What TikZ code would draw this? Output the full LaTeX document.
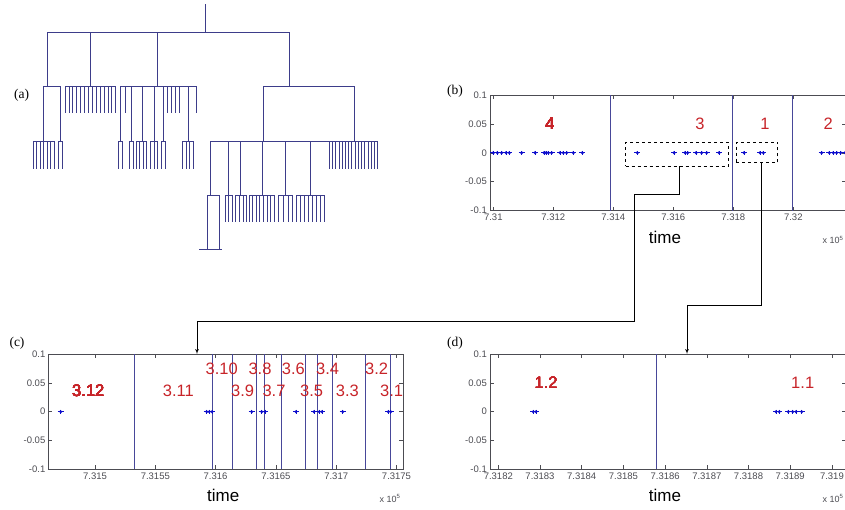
\documentclass[tikz,border=0pt]{standalone}
\usepackage{fontspec}
\setmainfont{Liberation Serif}
\newfontfamily\arialfont{Liberation Sans}
\usetikzlibrary{shapes,arrows,calc}
\definecolor{dendcol}{rgb}{0.24,0.24,0.54}
\definecolor{axcol}{rgb}{0.3,0.3,0.32}
\definecolor{sepcol}{rgb}{0.28,0.28,0.6}
\definecolor{labred}{rgb}{0.78,0.14,0.16}
\definecolor{ptcol}{rgb}{0.05,0.05,0.8}
\tikzstyle{line} = [draw, -latex', line width=0.7pt]
\tikzstyle{dendro} = [draw=dendcol, line width=0.8pt]
\tikzstyle{axline} = [draw=axcol, line width=0.6pt]
\tikzstyle{sepline} = [draw=sepcol, line width=0.6pt]
\tikzstyle{ticklab} = [font=\arialfont\fontsize{9.5}{11}\selectfont, text=axcol, inner sep=1pt]
\tikzstyle{axtitle} = [font=\arialfont\fontsize{17}{19}\selectfont, inner sep=0pt]
\tikzstyle{expo} = [font=\arialfont\fontsize{9}{10}\selectfont, text=axcol, inner sep=0pt]
\tikzstyle{clab} = [font=\arialfont\fontsize{16.5}{18}\selectfont, text=labred, inner sep=0pt]
\tikzstyle{plab} = [font=\fontsize{13.5}{15}\selectfont, inner sep=0pt]
\tikzstyle{dbox} = [draw, dashed, rectangle, line width=0.6pt, inner sep=0pt]
% bar from x1 to x2 at y, n leaves hanging down to y2
\newcommand{\leafrow}[5]{%
  \draw[dendro] (#1,#4) -- (#2,#4);
  \foreach \k in {1,...,#3} {
    \pgfmathsetmacro{\lx}{#1+(\k-1)*(#2-#1)/(#3-1)}
    \draw[dendro] (\lx,#4) -- (\lx,#5);
  }}
% one data point
\newcommand{\datum}[2]{%
  \fill[ptcol] (#1,#2) circle (1.7);
  \draw[ptcol, line width=0.9pt] (#1-3,#2) -- (#1+3,#2) (#1,#2-2) -- (#1,#2+2);}

\begin{document}
\begin{tikzpicture}[x=1pt, y=-1pt]
  \useasboundingbox (0,0) rectangle (845,509);

  % ---- (a) dendrogram
  \node[plab] (lab-a) at (21.7,95.7) {(a)};
  \draw[dendro] (205.7,4) -- (205.7,32);
  \draw[dendro] (47.7,32) -- (289.3,32);
  \foreach \x in {47.7,90.3,157.3,289.3} \draw[dendro] (\x,32) -- (\x,86);
  % first branch
  \draw[dendro] (43.3,86) -- (60.3,86);
  \foreach \x in {43.3,60.3} \draw[dendro] (\x,86) -- (\x,141.3);
  \leafrow{33.3}{54.3}{7}{141.3}{168.7}
  \leafrow{58.3}{62.3}{2}{141.3}{168.7}
  % second branch
  \leafrow{65}{115.7}{14}{86}{113.3}
  % third branch
  \draw[dendro] (120.3,86) -- (196.7,86);
  \foreach \x in {120.3,131,142.3,154,163.3,188.3} \draw[dendro] (\x,86) -- (\x,141.3);
  \foreach \x in {125.3,167.7,171.7,175.7,179.3,196.7} \draw[dendro] (\x,86) -- (\x,113.3);
  \leafrow{118.3}{122.7}{2}{141.3}{168.7}
  \leafrow{129.3}{133.3}{2}{141.3}{168.7}
  \leafrow{136.3}{146.7}{4}{141.3}{168.7}
  \leafrow{150.7}{157.3}{3}{141.3}{168.7}
  \leafrow{161.3}{165.3}{2}{141.3}{168.7}
  \leafrow{182.7}{193.3}{4}{141.3}{168.7}
  % fourth branch
  \draw[dendro] (263.3,86) -- (354.3,86);
  \foreach \x in {263.3,354.3} \draw[dendro] (\x,86) -- (\x,141.3);
  \leafrow{329.3}{377.7}{16}{141.3}{168.7}
  \draw[dendro] (210.7,141.3) -- (329.3,141.3);
  \foreach \x in {210.7,228.3,240.7,262.3,285,310.7} \draw[dendro] (\x,141.3) -- (\x,195.3);
  \draw[dendro] (207.3,195.3) -- (219.7,195.3);
  \foreach \x in {207.3,219.7} \draw[dendro] (\x,195.3) -- (\x,249.3);
  \draw[dendro] (199.3,249.3) -- (221.7,249.3);
  \leafrow{225.3}{232.3}{3}{195.3}{222.3}
  \leafrow{235.7}{246.7}{4}{195.3}{222.3}
  \leafrow{249.3}{274}{8}{195.3}{222.3}
  \leafrow{278.3}{292.7}{4}{195.3}{222.3}
  \leafrow{296.7}{324}{8}{195.3}{222.3}

  % ---- (b) whole record
  \node[plab] (lab-b) at (455,91.7) {(b)};
  \draw[axline] (490,95) rectangle (846,210.7);
  \foreach \y/\t [count=\i] in {95/0.1,123.9/0.05,152.8/0,181.7/-0.05,210.7/-0.1} {
    \draw[axline] (490,\y) -- ++(4,0);
    \draw[axline] (846,\y) -- ++(-4,0);
    \node[ticklab, anchor=east] (yb\i) at (488,\y) {\t};
  }
  \foreach \x/\t [count=\i] in {493.3/7.31,553.3/7.312,613.3/7.314,673.3/7.316,733.3/7.318,793.3/7.32} {
    \draw[axline] (\x,210.7) -- ++(0,-4);
    \draw[axline] (\x,95) -- ++(0,4);
    \node[ticklab, anchor=north] (xb\i) at (\x,213) {\t};
  }
  \foreach \x in {610.3,732.3,792.7} \draw[sepline] (\x,95) -- (\x,210.7);
  \foreach \x in {493.3,497.3,501.7,506,509.3,521.7,535,544,546,548.3,551.7,560,563.3,566.7,573.3,582.3,
                  637.3,674,685,687.7,696,701.7,706.7,719,744,760,763.3,821.7,829.3,833.3,836.7,840.7,845}
    \datum{\x}{152.8}
  \node[clab] (cb4) at (550,124) {4};
  \node[clab] (cb3) at (700,124) {3};
  \node[clab] (cb1) at (765,124) {1};
  \node[clab] (cb2) at (828.3,124) {2};
  \node[dbox, minimum width=102.6pt, minimum height=23.7pt] (box3) at (677,154.2) {};
  \node[dbox, minimum width=41.7pt, minimum height=20.4pt] (box1) at (756.9,152.5) {};
  \node[axtitle] (tb) at (665,237) {time};
  \node[expo] (eb) at (833,240) {x 10\textsuperscript{5}};

  % ---- (c) zoom on cluster 3
  \node[plab] (lab-c) at (17,343.3) {(c)};
  \draw[axline] (48.3,354) rectangle (403.3,469.3);
  \foreach \y/\t [count=\i] in {354/0.1,382.8/0.05,411.7/0,440.5/-0.05,469.3/-0.1} {
    \draw[axline] (48.3,\y) -- ++(4,0);
    \draw[axline] (403.3,\y) -- ++(-4,0);
    \node[ticklab, anchor=east] (yc\i) at (46.5,\y) {\t};
  }
  \foreach \x/\t [count=\i] in {95/7.315,155.3/7.3155,215.6/7.316,275.9/7.3165,336.2/7.317,396.5/7.3175} {
    \draw[axline] (\x,469.3) -- ++(0,-4);
    \draw[axline] (\x,354) -- ++(0,4);
    \node[ticklab, anchor=north] (xc\i) at (\x,472) {\t};
  }
  \foreach \x in {134,212,232.3,256.7,264.3,281.7,305.7,317,332.3,365.7,390} \draw[sepline] (\x,354) -- (\x,469.3);
  \foreach \x in {60.7,206.7,209.3,212,251.7,261.7,265,296,314,319.3,322,342.7,388.3,390.7}
    \datum{\x}{411.7}
  \node[clab] (c312) at (88.3,390.7) {3.12};
  \node[clab] (c311) at (178.3,390.7) {3.11};
  \node[clab] (c310) at (221.7,369.3) {3.10};
  \node[clab] (c39) at (242.7,390.7) {3.9};
  \node[clab] (c38) at (260,369.3) {3.8};
  \node[clab] (c37) at (274,390.7) {3.7};
  \node[clab] (c36) at (293.3,369.3) {3.6};
  \node[clab] (c35) at (311.7,390.7) {3.5};
  \node[clab] (c34) at (327.7,369.3) {3.4};
  \node[clab] (c33) at (347.3,390.7) {3.3};
  \node[clab] (c32) at (376.7,369.3) {3.2};
  \node[clab] (c31) at (391.7,390.7) {3.1};
  \node[axtitle] (tc) at (223.3,495.7) {time};
  \node[expo] (ec) at (390,498.3) {x 10\textsuperscript{5}};

  % ---- (d) zoom on cluster 1
  \node[plab] (lab-d) at (455,343.3) {(d)};
  \draw[axline] (490,354) rectangle (846,469.3);
  \foreach \y/\t [count=\i] in {354/0.1,382.8/0.05,411.7/0,440.5/-0.05,469.3/-0.1} {
    \draw[axline] (490,\y) -- ++(4,0);
    \draw[axline] (846,\y) -- ++(-4,0);
    \node[ticklab, anchor=east] (yd\i) at (488,\y) {\t};
  }
  \foreach \x/\t [count=\i] in {498.3/7.3182,540/7.3183,581.7/7.3184,623.4/7.3185,665.1/7.3186,706.8/7.3187,748.5/7.3188,790.2/7.3189,831.9/7.319} {
    \draw[axline] (\x,469.3) -- ++(0,-4);
    \draw[axline] (\x,354) -- ++(0,4);
    \node[ticklab, anchor=north] (xd\i) at (\x,472) {\t};
  }
  \draw[sepline] (656,354) -- (656,469.3);
  \foreach \x in {533.3,536,776,779.3,788.3,792.7,796,801.7}
    \datum{\x}{411.7}
  \node[clab] (d12) at (546,382.7) {1.2};
  \node[clab] (d11) at (802.7,382.7) {1.1};
  \node[axtitle] (td) at (665,495.7) {time};
  \node[expo] (ed) at (833,498.3) {x 10\textsuperscript{5}};

  % ---- connectors
  \coordinate (bend3) at (634,194);
  \coordinate (elbow3) at (634,321);
  \coordinate (arrc) at (197,354);
  \coordinate (bend1) at (687,305);
  \coordinate (arrd) at (687,354);
  \path[line] ([xshift=2pt]box3.south) |- (bend3) -- (elbow3) -| (arrc);
  \path[line] ([xshift=4pt]box1.south) |- (bend1) -- (arrd);
\end{tikzpicture}
\end{document}
